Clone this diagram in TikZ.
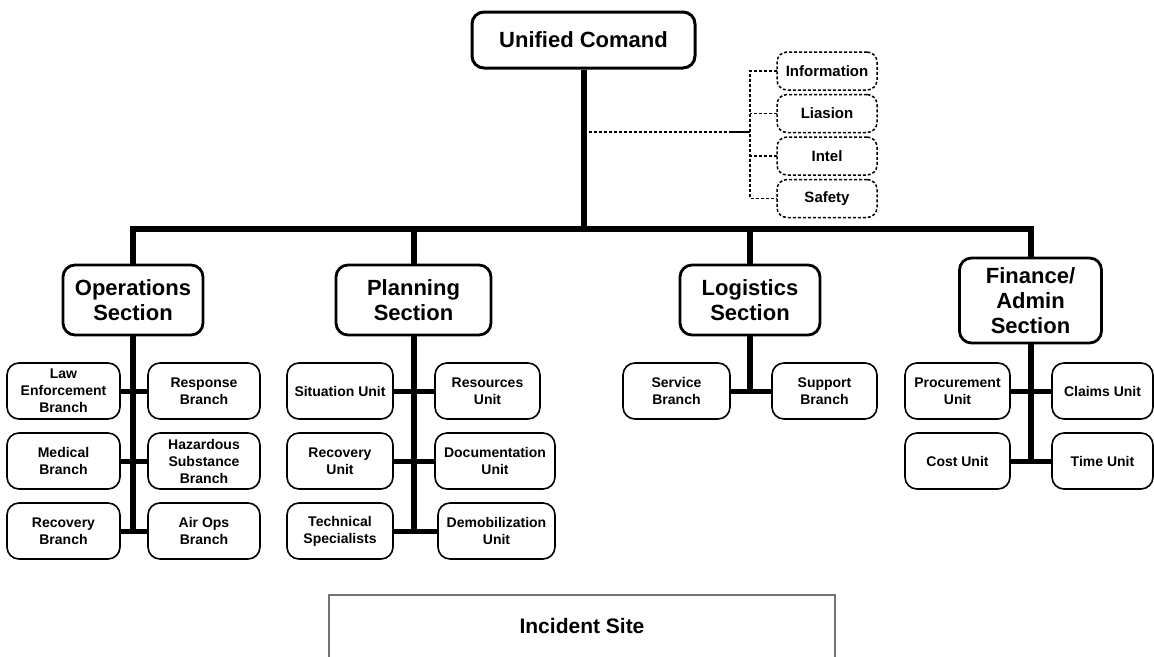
\documentclass[tikz,border=0pt]{standalone}
\usepackage{fontspec}
\setmainfont{Liberation Sans}
\usetikzlibrary{positioning}
\definecolor{FrameGray}{gray}{0.45}
\tikzset{%
  command/.style={%
    rectangle,%
    rounded corners=12pt,%
    draw=black,%
    line width=3pt,%
    minimum width=223pt,%
    minimum height=56pt,%
    font={\fontsize{22}{25}\selectfont\bfseries},%
    align=center%
  },
  section/.style={%
    rectangle,%
    rounded corners=12pt,%
    draw=black,%
    line width=2.8pt,%
    minimum height=70pt,%
    inner sep=2pt,%
    outer sep=0pt,%
    font={\fontsize{22}{25}\selectfont\bfseries},%
    align=center%
  },
  unit/.style={%
    rectangle,%
    rounded corners=12pt,%
    draw=black,%
    line width=1.6pt,%
    minimum height=56pt,%
    inner sep=2pt,%
    outer sep=0pt,%
    font={\fontsize{14}{17}\selectfont\bfseries},%
    align=center%
  },
  staff/.style={%
    rectangle,%
    rounded corners=10pt,%
    draw=black,%
    line width=1.5pt,%
    dash pattern=on 3pt off 2pt,%
    minimum width=100pt,%
    minimum height=38pt,%
    inner sep=2pt,%
    outer sep=0pt,%
    font={\fontsize{15}{17}\selectfont\bfseries},%
    align=center%
  },
  site/.style={%
    rectangle,%
    draw=FrameGray,%
    line width=1.5pt,%
    minimum width=506pt,%
    minimum height=90pt,%
    text depth=28pt,%
    font={\fontsize{21}{25}\selectfont\bfseries},%
  },
  trunk/.style={%
    color=black,%
    line width=6pt,%
    line join=miter,%
  },
  stub/.style={%
    color=black,%
    line width=5pt,%
  },
  staff_path/.style={%
    color=black,%
    line width=1.3pt,%
    dash pattern=on 3pt off 2pt,%
  },
}
\begin{document}
\begin{tikzpicture}[x=1pt, y=1pt]
  \useasboundingbox (0,0) rectangle (1154,-656);

  % command and staff
  \node[command] (UC) at (583.5,-40) {Unified Comand};
  \node[staff] (INFO) at (827,-71) {Information};
  \node[staff, below = 4.5 of INFO] (LIA) {Liasion};
  \node[staff, below = 4.5 of LIA] (INT) {Intel};
  \node[staff, below = 4.5 of INT] (SAFE) {Safety};
  \coordinate (STAFF) at (750,-132);
  \coordinate (BAR) at (583.5,-229);

  % sections
  \node[section, minimum width=140pt] (OPS) at (133,-300) {Operations\\Section};
  \node[section, minimum width=155pt] (PLAN) at (413.5,-300) {Planning\\Section};
  \node[section, minimum width=140pt] (LOG) at (750,-300) {Logistics\\Section};
  \node[section, minimum width=142pt, minimum height=85pt] (FIN) at (1030.5,-300.5) {Finance/\\Admin\\Section};

  % operations
  \node[unit, minimum width=113pt, below left = 28 and 13 of OPS.south] (OPS1) {Law\\Enforcement\\Branch};
  \node[unit, minimum width=112pt, below right = 28 and 15 of OPS.south] (OPS2) {Response\\Branch};
  \node[unit, minimum width=113pt, below = 14 of OPS1] (OPS3) {Medical\\Branch};
  \node[unit, minimum width=112pt, below = 14 of OPS2] (OPS4) {Hazardous\\Substance\\Branch};
  \node[unit, minimum width=113pt, below = 14 of OPS3] (OPS5) {Recovery\\Branch};
  \node[unit, minimum width=112pt, below = 14 of OPS4] (OPS6) {Air Ops\\Branch};

  % planning
  \node[unit, minimum width=106pt, below left = 28 and 20.5 of PLAN.south] (PLAN1) {Situation Unit};
  \node[unit, minimum width=105pt, below right = 28 and 21.5 of PLAN.south] (PLAN2) {Resources\\Unit};
  \node[unit, minimum width=106pt, below = 14 of PLAN1] (PLAN3) {Recovery\\Unit};
  \node[unit, minimum width=120pt, below right = 98 and 21.5 of PLAN.south] (PLAN4) {Documentation\\Unit};
  \node[unit, minimum width=106pt, below = 14 of PLAN3] (PLAN5) {Technical\\Specialists};
  \node[unit, minimum width=117pt, below right = 168 and 24.5 of PLAN.south] (PLAN6) {Demobilization\\Unit};

  % logistics
  \node[unit, minimum width=107pt, below left = 28 and 20 of LOG.south] (LOG1) {Service\\Branch};
  \node[unit, minimum width=105pt, below right = 28 and 22 of LOG.south] (LOG2) {Support\\Branch};

  % finance
  \node[unit, minimum width=105pt, below left = 20 and 20.5 of FIN.south] (FIN1) {Procurement\\Unit};
  \node[unit, minimum width=101pt, below right = 20 and 21.5 of FIN.south] (FIN2) {Claims Unit};
  \node[unit, minimum width=105pt, below = 14 of FIN1] (FIN3) {Cost Unit};
  \node[unit, minimum width=101pt, below = 14 of FIN2] (FIN4) {Time Unit};

  \node[site, anchor=north] (SITE) at (582,-594) {Incident Site};

  % main tree
  \draw[trunk] (UC.south) -- (BAR);
  \draw[trunk] (OPS.north) -- (OPS.north |- BAR) -- (FIN.north |- BAR) -- (FIN.north);
  \draw[trunk] (PLAN.north) -- (PLAN.north |- BAR);
  \draw[trunk] (LOG.north) -- (LOG.north |- BAR);

  % staff lines
  \draw[staff_path] (UC.south |- STAFF) -- (STAFF);
  \draw[staff_path, solid] ([xshift=-18pt]STAFF) -- (STAFF);
  \draw[staff_path] (INFO.west) -- (INFO.west -| STAFF) -- (SAFE.west -| STAFF) -- (SAFE.west);
  \draw[staff_path] (LIA.west) -- (LIA.west -| STAFF);
  \draw[staff_path] (INT.west) -- (INT.west -| STAFF);

  % section trunks
  \draw[trunk] (OPS.south) -- ([yshift=-2.5pt]OPS.south |- OPS5.east);
  \draw[trunk] (PLAN.south) -- ([yshift=-2.5pt]PLAN.south |- PLAN5.east);
  \draw[trunk] (LOG.south) -- ([yshift=-2.5pt]LOG.south |- LOG1.east);
  \draw[trunk] (FIN.south) -- ([yshift=-2.5pt]FIN.south |- FIN3.east);

  % unit stubs
  \draw[stub] (OPS1.east) -- (OPS2.west);
  \draw[stub] (OPS3.east) -- (OPS4.west);
  \draw[stub] (OPS5.east) -- (OPS6.west);
  \draw[stub] (PLAN1.east) -- (PLAN2.west);
  \draw[stub] (PLAN3.east) -- (PLAN4.west);
  \draw[stub] (PLAN5.east) -- (PLAN6.west);
  \draw[stub] (LOG1.east) -- (LOG2.west);
  \draw[stub] (FIN1.east) -- (FIN2.west);
  \draw[stub] (FIN3.east) -- (FIN4.west);

\end{tikzpicture}
\end{document}
